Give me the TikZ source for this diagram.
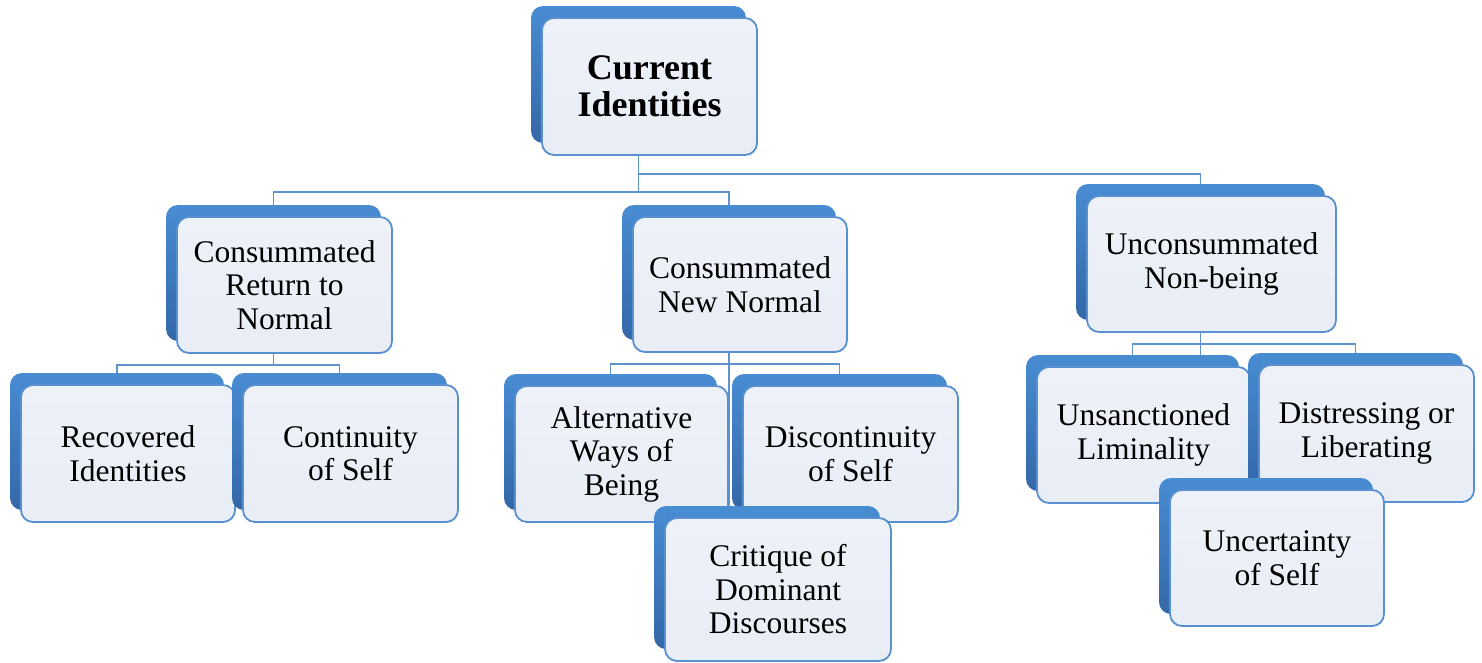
\documentclass[tikz,border=0pt]{standalone}
\usepackage{fontspec}
\setmainfont{Liberation Serif}
\usetikzlibrary{shadows,backgrounds}
\definecolor{backtop}{RGB}{72,140,210}
\definecolor{backbot}{RGB}{52,104,168}
\definecolor{facetop}{RGB}{238,241,248}
\definecolor{facebot}{RGB}{232,237,246}
\definecolor{edge}{RGB}{88,144,208}
\definecolor{wire}{RGB}{96,146,204}
\tikzset{
  card/.style={
    rounded corners=12pt, draw=edge, line width=1.8pt,
    top color=facetop, bottom color=facebot,
    align=center, inner sep=0pt,
    font=\fontsize{31.5}{33.5}\selectfont,
    general shadow={shadow xshift=-11pt, shadow yshift=12pt,
      draw=none, top color=backtop, bottom color=backbot}
  },
  wide/.style={minimum width=#1pt},
  tall/.style={minimum height=#1pt},
  conn/.style={draw=wire, line width=1.7pt}
}
\begin{document}
\begin{tikzpicture}[x=1pt,y=-1pt]
\useasboundingbox (0,0) rectangle (1482,662);

% cards
\node[card, wide=215, tall=137, font=\fontsize{36}{37}\selectfont\bfseries]
  (ci) at (649.5,86.5) {Current\\Identities};
\node[card, wide=215, tall=136] (crn) at (284.5,285) {Consummated\\Return to\\Normal};
\node[card, wide=214, tall=135] (cnn) at (740,284.5) {Consummated\\New Normal};
\node[card, wide=249, tall=136] (un) at (1211.5,264) {Unconsummated\\Non-being};

\node[card, wide=214, tall=137] (rec) at (128,453.5) {Recovered\\Identities};
\node[card, wide=215, tall=137] (cont) at (350.5,453.5) {Continuity\\of Self};

\node[card, wide=213, tall=136] (alt) at (621.5,454) {Alternative\\Ways of\\Being};
\node[card, wide=215, tall=136] (disc) at (850.5,454) {Discontinuity\\of Self};
\node[card, wide=226, tall=143] (crit) at (778,589.5) {Critique of\\Dominant\\Discourses};

\node[card, wide=213, tall=136] (uns) at (1143.5,435) {Unsanctioned\\Liminality};
\node[card, wide=215, tall=137] (dist) at (1366.5,433.5) {Distressing or\\Liberating};
\node[card, wide=214, tall=136] (unc) at (1277,558) {Uncertainty\\of Self};

% connectors run behind the cards, from the middle of each back plate
\begin{scope}[on background layer]
  \fill[white] (0,0) rectangle (1482,662);
  \coordinate (cnnT) at ([xshift=-11pt]cnn.center);
  \coordinate (unT) at ([xshift=-11pt]un.center);

  \draw[conn] ([xshift=-11pt]ci.center) |- ([xshift=-11pt,yshift=24pt]crn.north) -- ([xshift=-11pt]crn.center);
  \draw[conn] ([xshift=-11pt]ci.center) |- ([xshift=-11pt,yshift=24pt]cnn.north) -- (cnnT);
  \draw[conn] ([xshift=-11pt]ci.center) |- ([xshift=-11pt,yshift=21pt]un.north) -- (unT);

  \draw[conn] ([xshift=-11pt]crn.center) |- ([xshift=-11pt,yshift=19pt]rec.north) -- ([xshift=-11pt]rec.center);
  \draw[conn] ([xshift=-11pt]crn.center) |- ([xshift=-11pt,yshift=19pt]cont.north) -- ([xshift=-11pt]cont.center);

  \draw[conn] (cnnT) |- ([xshift=-11pt,yshift=21pt]alt.north) -- ([xshift=-11pt]alt.center);
  \draw[conn] (cnnT) |- ([xshift=-11pt,yshift=21pt]disc.north) -- ([xshift=-11pt]disc.center);
  \draw[conn] (cnnT) -- (cnnT |- crit.center);

  \draw[conn] (unT) |- ([xshift=-11pt,yshift=22pt]uns.north) -- ([xshift=-11pt]uns.center);
  \draw[conn] (unT) |- ([xshift=-11pt,yshift=20pt]dist.north) -- ([xshift=-11pt]dist.center);
  \draw[conn] (unT) -- (unT |- unc.center);
\end{scope}
\end{tikzpicture}
\end{document}
